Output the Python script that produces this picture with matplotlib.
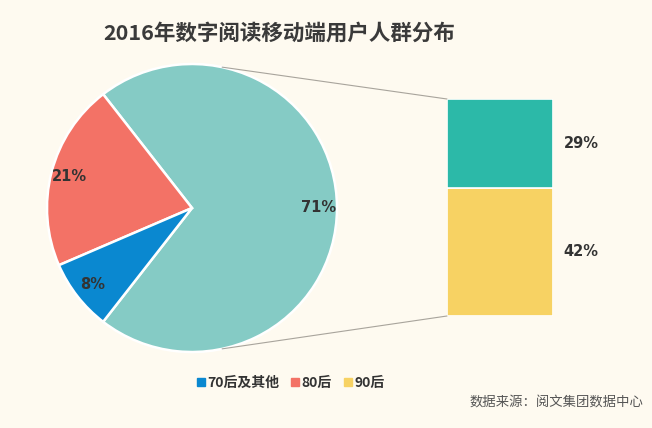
import numpy as np
import matplotlib
matplotlib.use('Agg')
import matplotlib.pyplot as plt
from matplotlib.patches import ConnectionPatch
from matplotlib.lines import Line2D

plt.rcParams['font.family'] = ['Noto Sans CJK SC', 'DejaVu Sans']

# data
pie_labels = ['90后', '80后', '70后及其他']
pie_values = [71, 21, 8]
pie_colors = ['#85cbc5', '#f37266', '#0a88d0']

bar_labels = ['42%', '29%']
bar_values = [42, 29]
bar_colors = ['#f7d263', '#2cb9a8']

legend_labels = ['70后及其他', '80后', '90后']
legend_colors = ['#0a88d0', '#f37266', '#f7d263']

title = '2016年数字阅读移动端用户人群分布'
source = '数据来源：阅文集团数据中心'

bg = '#fefaf0'
W, H = 652, 428
fig = plt.figure(figsize=(W / 100, H / 100), dpi=100, facecolor=bg)

# pie
ax1 = fig.add_axes([47 / W, 76 / H, 290 / W, 288 / H])
ax1.set_facecolor(bg)
start = -360 * pie_values[0] / sum(pie_values) / 2
wedges, texts, autotexts = ax1.pie(
    pie_values, colors=pie_colors, startangle=start, radius=1,
    autopct='%d%%', pctdistance=0.87,
    wedgeprops=dict(edgecolor='white', linewidth=1.8),
    textprops=dict(color='#333333', fontsize=10.5, fontweight='bold',
                   family=['DejaVu Sans']))
ax1.set_xlim(-1, 1)
ax1.set_ylim(-1, 1)
ax1.set_aspect('auto')
ax1.axis('off')

# bar
ax2 = fig.add_axes([447 / W, 112 / H, 106 / W, 217 / H])
bottom = 0
for v, c, lab in zip(bar_values, bar_colors, bar_labels):
    ax2.bar(0, v, width=1, bottom=bottom, color=c, edgecolor='white', linewidth=1.2)
    ax2.text(0.5 + 0.1, bottom + v / 2, lab, ha='left', va='center',
             color='#333333', fontsize=10.5, fontweight='bold', family=['DejaVu Sans'])
    bottom += v
ax2.set_xlim(-0.5, 0.5)
ax2.set_ylim(0, sum(bar_values))
ax2.axis('off')

# connecting lines
ang = np.deg2rad(78)
for sgn, yb in [(1, sum(bar_values)), (-1, 0)]:
    con = ConnectionPatch(xyA=(-0.5, yb), coordsA=ax2.transData,
                          xyB=(np.cos(ang), sgn * np.sin(ang)), coordsB=ax1.transData,
                          color='#a8a49c', linewidth=0.8)
    fig.add_artist(con)

fig.text(103 / W, 1 - 33 / H, title, fontsize=15.5, fontweight='bold',
         color='#3a3a3a', ha='left', va='center')

handles = [Line2D([], [], marker='s', linestyle='none', markersize=6,
                  markerfacecolor=c, markeredgecolor=c) for c in legend_colors]
fig.legend(handles, legend_labels, loc='center', bbox_to_anchor=(291 / W, 1 - 383 / H),
           ncol=3, frameon=False, handlelength=0.5, handletextpad=0.2,
           columnspacing=0.9, prop=dict(size=10, weight='bold'), labelcolor='#333333')

fig.text(643 / W, 1 - 403 / H, source, fontsize=9.6, color='#555555',
         ha='right', va='center')

fig.savefig('out.png', dpi=100, facecolor=bg)
